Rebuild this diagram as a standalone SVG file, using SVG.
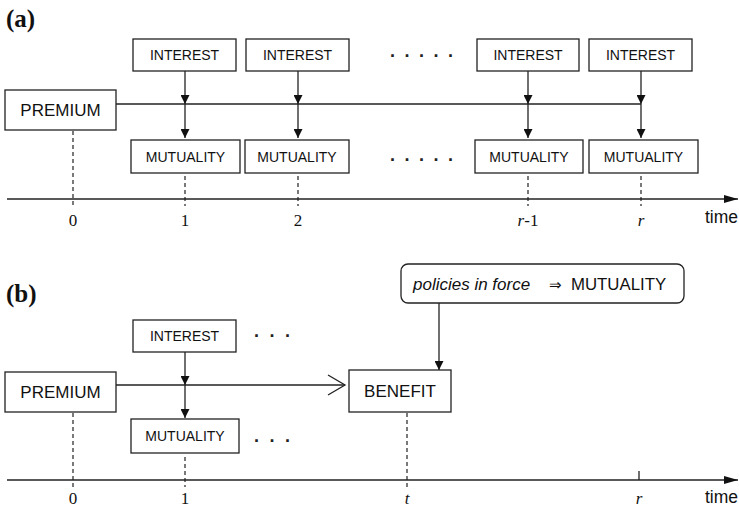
<svg xmlns="http://www.w3.org/2000/svg" width="739" height="508" viewBox="0 0 739 508">
<style>
.box{fill:#fff;stroke:#222;stroke-width:1.3}
.ln{fill:none;stroke:#222;stroke-width:1.3}
.dash{fill:none;stroke:#222;stroke-width:1.2;stroke-dasharray:4 3}
.s{font-family:"Liberation Sans",Arial,sans-serif;fill:#111}
.sm{font-size:14px}
.lg{font-size:17px}
.num{font-family:"Liberation Serif","Times New Roman",serif;font-size:17px;fill:#111}
.lab{font-family:"Liberation Serif","Times New Roman",serif;font-size:25px;font-weight:bold;fill:#111}
.dots{font-family:"Liberation Sans",Arial,sans-serif;font-size:18px;font-weight:bold;fill:#222}
</style>
<defs>
<marker id="ah" viewBox="0 0 10 10" refX="10" refY="5" markerWidth="9" markerHeight="9" markerUnits="userSpaceOnUse" orient="auto"><path d="M0,0 L10,5 L0,10 z" fill="#111"/></marker>
<marker id="ax" viewBox="0 0 14 8" refX="14" refY="4" markerWidth="14" markerHeight="8" markerUnits="userSpaceOnUse" orient="auto"><path d="M0,0 L14,4 L0,8 z" fill="#111"/></marker>
</defs>

<text class="lab" x="6" y="27">(a)</text>
<text class="lab" x="6" y="302">(b)</text>

<g id="connectors">
  <!-- panel a -->
  <path class="ln" d="M7,199 H738" marker-end="url(#ax)"/>
  <path class="ln" d="M116,104 H641"/>
  <path class="ln" d="M185,71 V104" marker-end="url(#ah)"/>
  <path class="ln" d="M185,104 V138" marker-end="url(#ah)"/>
  <path class="ln" d="M298,71 V104" marker-end="url(#ah)"/>
  <path class="ln" d="M298,104 V138" marker-end="url(#ah)"/>
  <path class="ln" d="M528,71 V104" marker-end="url(#ah)"/>
  <path class="ln" d="M528,104 V138" marker-end="url(#ah)"/>
  <path class="ln" d="M641,71 V104" marker-end="url(#ah)"/>
  <path class="ln" d="M641,104 V138" marker-end="url(#ah)"/>
  <path class="dash" d="M73,131 V206"/>
  <path class="dash" d="M185,176 V206"/>
  <path class="dash" d="M298,176 V206"/>
  <path class="dash" d="M528,176 V206"/>
  <path class="dash" d="M641,176 V206"/>
  <!-- panel b -->
  <path class="ln" d="M7,480 H738" marker-end="url(#ax)"/>
  <path class="ln" d="M116,385 H345"/>
  <path class="ln" d="M328,375 L345,385 L328,395"/>
  <path class="ln" d="M185,352 V385" marker-end="url(#ah)"/>
  <path class="ln" d="M185,385 V418" marker-end="url(#ah)"/>
  <path class="ln" d="M439,303 V370" marker-end="url(#ah)"/>
  <path class="dash" d="M73,413 V487"/>
  <path class="dash" d="M185,457 V487"/>
  <path class="dash" d="M407,413 V487"/>
  <path class="ln" d="M639,471 V480"/>
</g>

<g id="premium-a"><rect class="box" x="5" y="90" width="111" height="40"/><text class="s lg" x="60.5" y="116" text-anchor="middle">PREMIUM</text></g>
<g id="interest-a1"><rect class="box" x="133" y="39" width="103" height="32"/><text class="s sm" x="184.5" y="60" text-anchor="middle">INTEREST</text></g>
<g id="interest-a2"><rect class="box" x="246" y="39" width="103" height="32"/><text class="s sm" x="297.5" y="60" text-anchor="middle">INTEREST</text></g>
<g id="interest-a3"><rect class="box" x="477" y="39" width="102" height="32"/><text class="s sm" x="528" y="60" text-anchor="middle">INTEREST</text></g>
<g id="interest-a4"><rect class="box" x="589" y="39" width="103" height="32"/><text class="s sm" x="640.5" y="60" text-anchor="middle">INTEREST</text></g>
<g id="mutuality-a1"><rect class="box" x="131" y="140" width="109" height="33"/><text class="s sm" x="185.5" y="161.5" text-anchor="middle">MUTUALITY</text></g>
<g id="mutuality-a2"><rect class="box" x="245" y="140" width="104" height="33"/><text class="s sm" x="297" y="161.5" text-anchor="middle">MUTUALITY</text></g>
<g id="mutuality-a3"><rect class="box" x="475" y="140" width="108" height="33"/><text class="s sm" x="529" y="161.5" text-anchor="middle">MUTUALITY</text></g>
<g id="mutuality-a4"><rect class="box" x="589" y="140" width="109" height="33"/><text class="s sm" x="643.5" y="161.5" text-anchor="middle">MUTUALITY</text></g>
<g id="dots-a">
  <text class="dots" x="390" y="57">.</text><text class="dots" x="404.5" y="57">.</text><text class="dots" x="419" y="57">.</text><text class="dots" x="433.5" y="57">.</text><text class="dots" x="448" y="57">.</text>
  <text class="dots" x="390" y="161">.</text><text class="dots" x="404.5" y="161">.</text><text class="dots" x="419" y="161">.</text><text class="dots" x="433.5" y="161">.</text><text class="dots" x="448" y="161">.</text>
</g>
<g id="axis-a-labels">
  <text class="num" x="73" y="226" text-anchor="middle">0</text>
  <text class="num" x="185" y="226" text-anchor="middle">1</text>
  <text class="num" x="298" y="226" text-anchor="middle">2</text>
  <text class="num" x="528" y="226" text-anchor="middle"><tspan font-style="italic">r</tspan>-1</text>
  <text class="num" x="641" y="226" text-anchor="middle" font-style="italic">r</text>
  <text class="s" x="705" y="223" font-size="17.5">time</text>
</g>

<g id="premium-b"><rect class="box" x="5" y="372" width="111" height="40"/><text class="s lg" x="60.5" y="398" text-anchor="middle">PREMIUM</text></g>
<g id="interest-b"><rect class="box" x="133" y="320" width="103" height="32"/><text class="s sm" x="184.5" y="341" text-anchor="middle">INTEREST</text></g>
<g id="mutuality-b"><rect class="box" x="131" y="419" width="108" height="34"/><text class="s sm" x="185" y="441" text-anchor="middle">MUTUALITY</text></g>
<g id="benefit-b"><rect class="box" x="349" y="370" width="102" height="42"/><text class="s lg" x="400" y="397" text-anchor="middle">BENEFIT</text></g>
<g id="policies-b"><rect class="box" x="401" y="264" width="283" height="39" rx="7" ry="7"/><text class="s lg" y="290"><tspan x="413" font-style="italic">policies in force</tspan><tspan x="549" font-size="15">⇒</tspan><tspan x="571" font-size="16.8">MUTUALITY</tspan></text></g>
<g id="dots-b">
  <text class="dots" x="254" y="337">.</text><text class="dots" x="269.5" y="337">.</text><text class="dots" x="285" y="337">.</text>
  <text class="dots" x="254" y="442">.</text><text class="dots" x="269.5" y="442">.</text><text class="dots" x="285" y="442">.</text>
</g>
<g id="axis-b-labels">
  <text class="num" x="73" y="504" text-anchor="middle">0</text>
  <text class="num" x="185" y="504" text-anchor="middle">1</text>
  <text class="num" x="407" y="504" text-anchor="middle" font-style="italic">t</text>
  <text class="num" x="639" y="504" text-anchor="middle" font-style="italic">r</text>
  <text class="s" x="705" y="503" font-size="17.5">time</text>
</g>
</svg>
